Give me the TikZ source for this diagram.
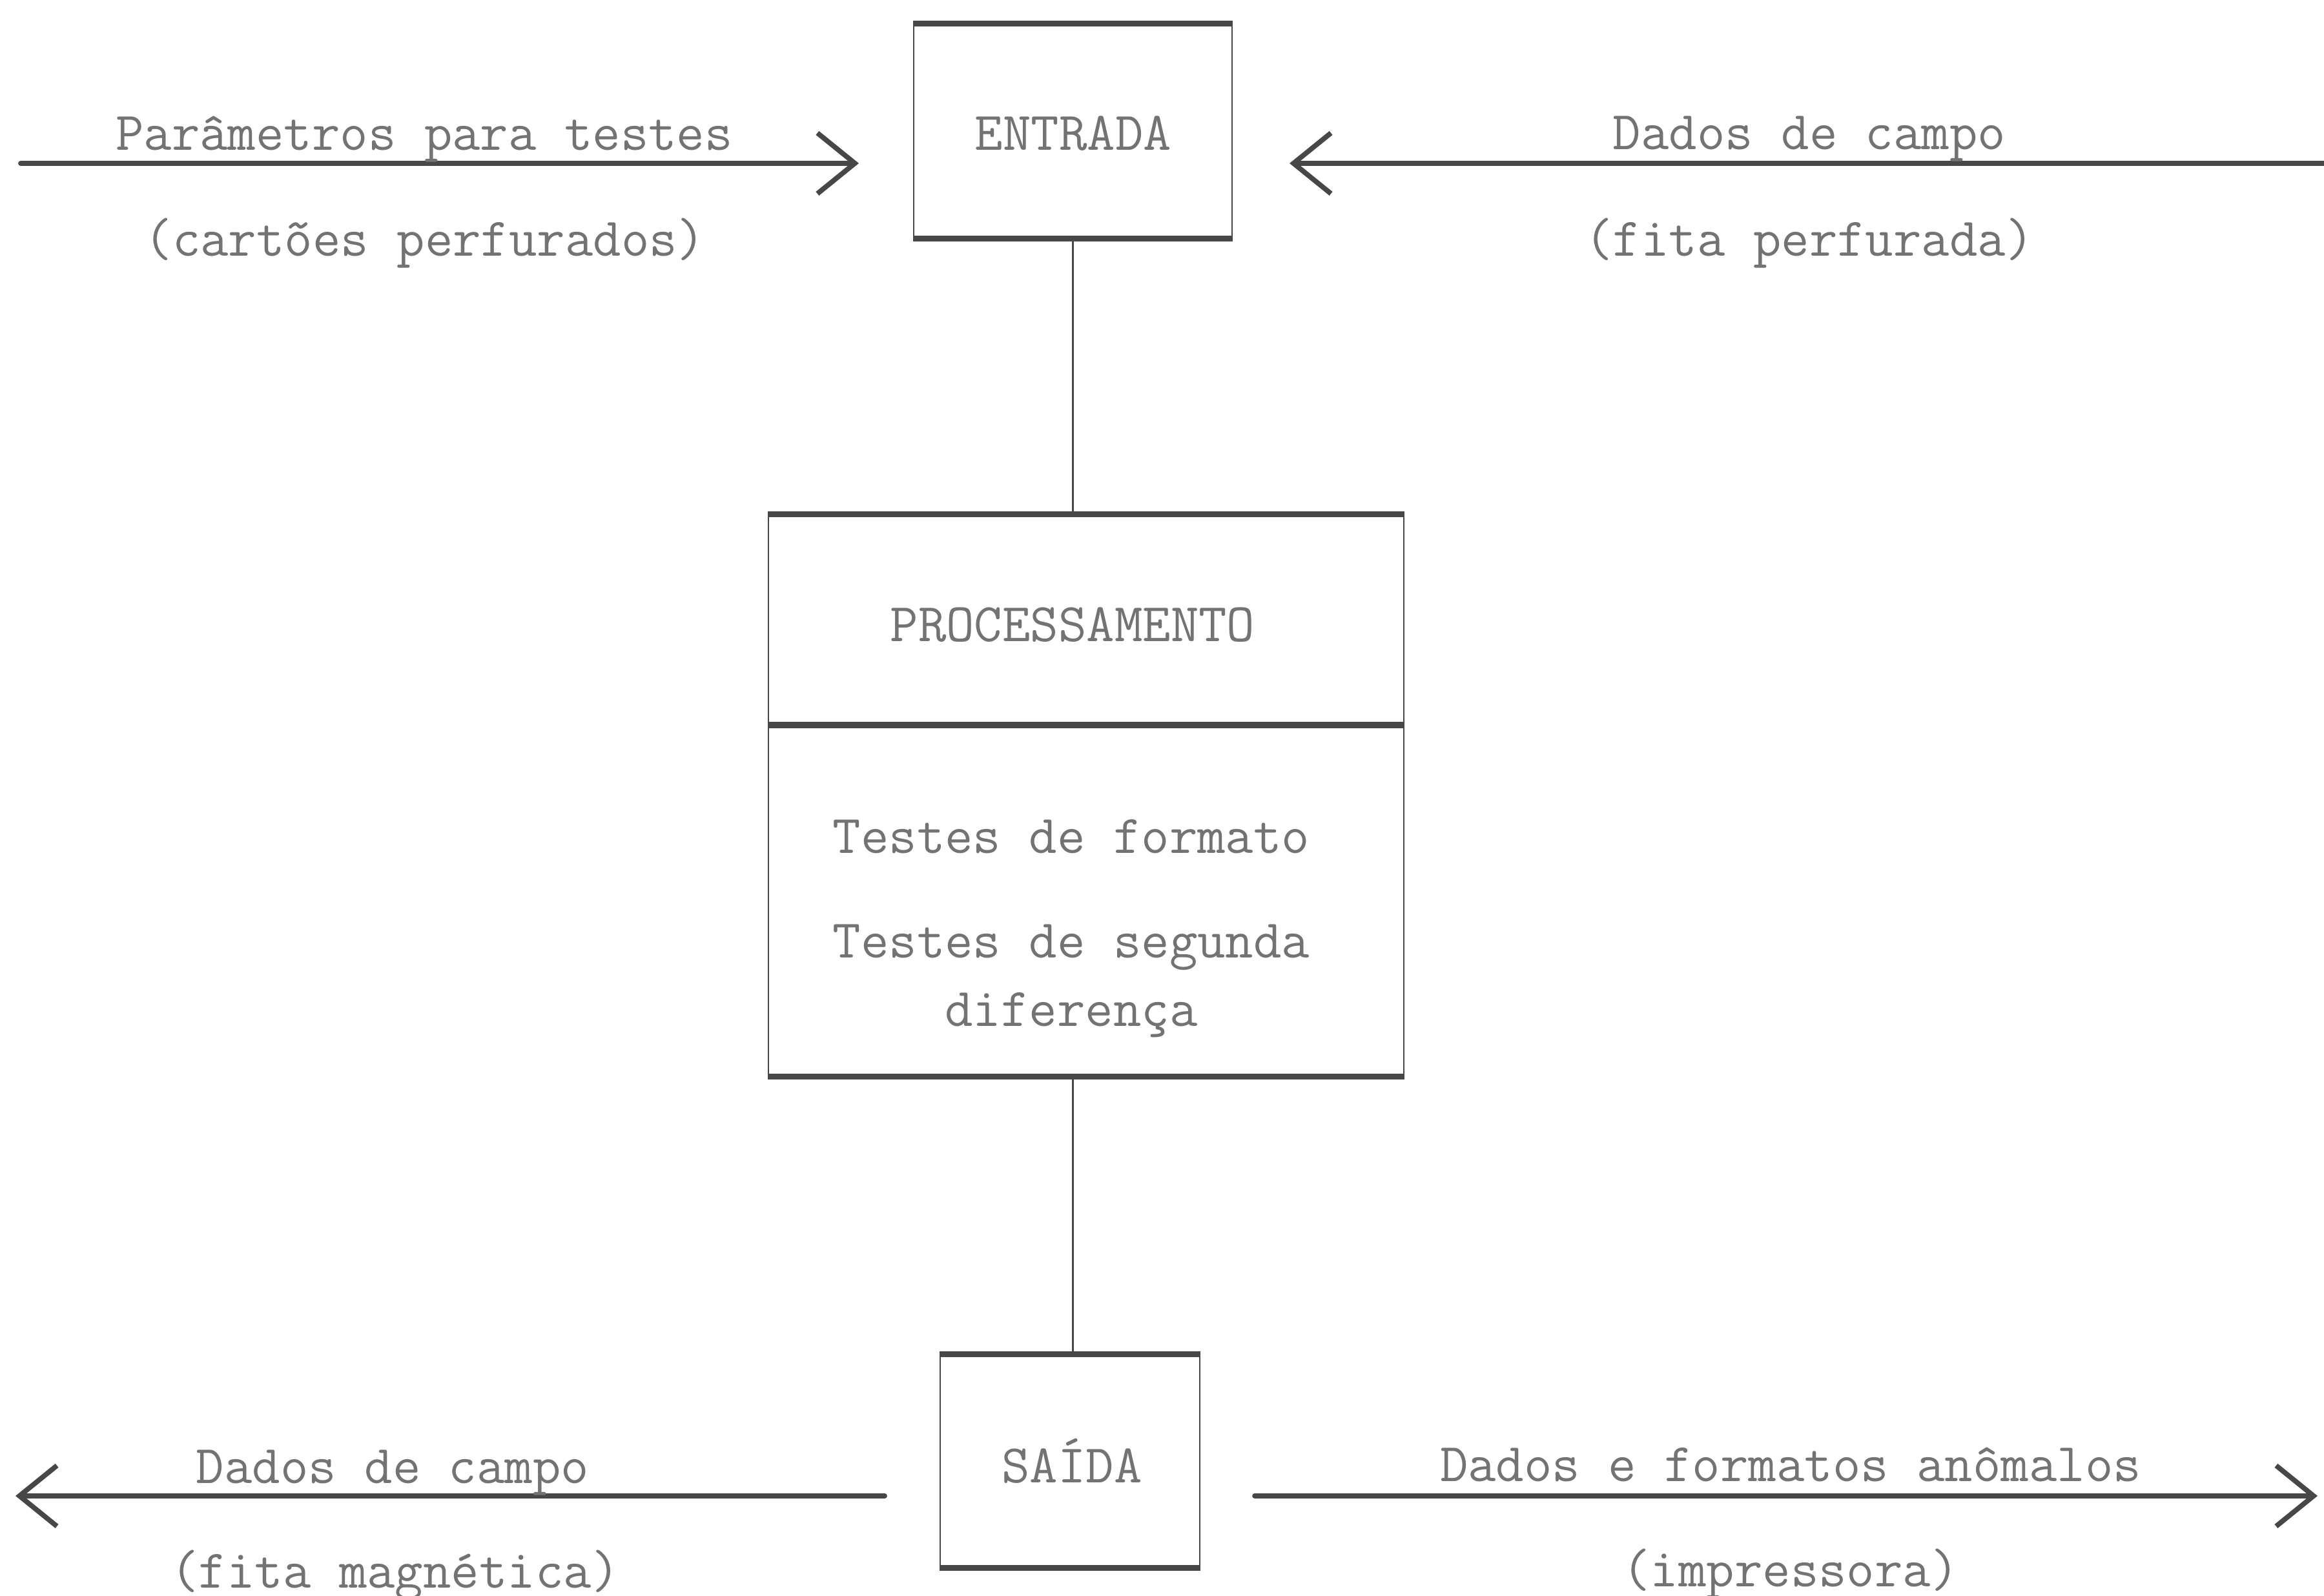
\documentclass[tikz,border=0pt]{standalone}
\usepackage{fontspec}
\usetikzlibrary{arrows.meta}
\definecolor{lapis}{gray}{0.28}
\definecolor{grafite}{gray}{0.45}
\begin{document}
\begin{tikzpicture}[>={Straight Barb[length=5.8mm,width=9.4mm]}]
% Stili per blocchi, bordi, frecce e testi
\tikzset{caixa/.style={draw=lapis,line width=0.8pt,inner sep=0pt},
         borda/.style={lapis,line width=2.6pt},
         ligacao/.style={lapis,line width=0.7pt},
         fluxo/.style={->,lapis,line width=2.2pt,line cap=round},
         rotulo/.style={grafite,anchor=base,inner sep=0pt,font=\ttfamily\fontsize{24}{28}\selectfont}}

% Margini della figura
\useasboundingbox (0,0) rectangle (35.99,24.72);

% --- BLOCCHI ---
\node[caixa, minimum width=4.93cm, minimum height=3.30cm] (entrada) at (16.615,22.69) {};
\node[caixa, minimum width=9.84cm, minimum height=8.68cm] (proc) at (16.82,12.40) {};
\node[caixa, minimum width=4.02cm, minimum height=3.28cm] (saida) at (16.57,2.09) {};

% Bordi orizzontali spessi
\foreach \b in {entrada, proc, saida} {
    \draw[borda] (\b.north west) -- (\b.north east);
    \draw[borda] (\b.south west) -- (\b.south east);
}
\draw[borda] (proc.west |- 0,13.49) -- (proc.east |- 0,13.49);

% Collegamenti verticali
\draw[ligacao] (entrada.south) -- (entrada.south |- proc.north);
\draw[ligacao] (entrada.south |- proc.south) -- (entrada.south |- saida.north);

% Estremi delle frecce
\coordinate (PI) at (0.32,22.19);
\coordinate (PF) at (13.30,22.19);
\coordinate (CI) at (35.99,22.19);
\coordinate (CF) at (19.97,22.19);
\coordinate (MI) at (13.70,1.55);
\coordinate (MF) at (0.24,1.55);
\coordinate (AI) at (19.43,1.55);
\coordinate (AF) at (35.89,1.55);

% --- FRECCE ---
\draw[fluxo] (PI) -- (PF);
\draw[fluxo] (CI) -- (CF);
\draw[fluxo] (MI) -- (MF);
\draw[fluxo] (AI) -- (AF);

% --- TESTI ---
\node[rotulo] (tparam) at (6.57,22.39) {Parâmetros para testes};
\node[rotulo] (tcart) at (6.58,20.75) {(cartões perfurados)};
\node[rotulo] (tent) at (16.62,22.39) {ENTRADA};
\node[rotulo] (tdados) at (28.02,22.40) {Dados de campo};
\node[rotulo] (tfita) at (28.02,20.75) {(fita perfurada)};

\node[rotulo] (tproc) at (16.61,14.78) {PROCESSAMENTO};
\node[rotulo] (tform) at (16.59,11.50) {Testes de formato};
\node[rotulo] (tseg) at (16.59,9.88) {Testes de segunda};
\node[rotulo] (tdif) at (16.59,8.82) {diferença};

\node[rotulo] (tsai) at (16.60,1.75) {SAÍDA};
\node[rotulo] (tdcampo) at (6.08,1.74) {Dados de campo};
\node[rotulo] (tmag) at (6.12,0.12) {(fita magnética)};
\node[rotulo] (tanom) at (27.73,1.77) {Dados e formatos anômalos};
\node[rotulo] (timp) at (27.73,0.14) {(impressora)};

\end{tikzpicture}
\end{document}
